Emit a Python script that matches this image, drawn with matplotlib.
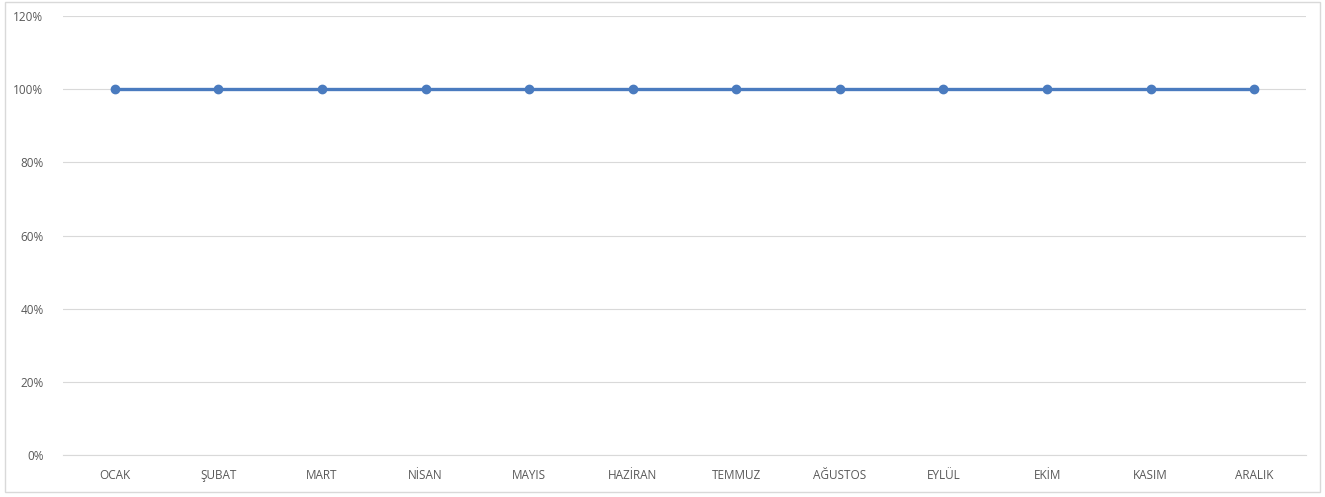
import matplotlib
matplotlib.use("Agg")
import matplotlib.pyplot as plt
from matplotlib.patches import Rectangle
from matplotlib.ticker import FuncFormatter

months = ["OCAK", "ŞUBAT", "MART", "NİSAN", "MAYIS", "HAZİRAN",
          "TEMMUZ", "AĞUSTOS", "EYLÜL", "EKİM", "KASIM", "ARALIK"]
values = [1.0, 1.0, 1.0, 1.0, 1.0, 1.0, 1.0, 1.0, 1.0, 1.0, 1.0, 1.0]
y_ticks = [0.0, 0.2, 0.4, 0.6, 0.8, 1.0, 1.2]

plt.rcParams["font.family"] = ["Open Sans", "DejaVu Sans"]
TEXT = "#595959"
LINE = "#4a7bbf"

fig = plt.figure(figsize=(13.25, 4.97), dpi=100)
ax = fig.add_axes([0.0475, 0.0845, 0.9382, 0.8833])

x = list(range(len(months)))
ax.plot(x, values, color=LINE, linewidth=2.4, marker="o", markersize=6,
        solid_capstyle="round", zorder=3)

ax.set_xlim(-0.5, len(months) - 0.5)
ax.set_ylim(0, 1.2)
ax.set_yticks(y_ticks)
ax.yaxis.set_major_formatter(FuncFormatter(lambda v, p: f"{v * 100:.0f}%"))
ax.set_xticks(x)
ax.set_xticklabels(months)
ax.grid(axis="y", color="#d9d9d9", linewidth=0.8)
ax.set_axisbelow(True)
for s in ["top", "right", "left"]:
    ax.spines[s].set_visible(False)
ax.spines["bottom"].set_color("#d9d9d9")
ax.spines["bottom"].set_linewidth(0.8)
ax.tick_params(axis="both", length=0, colors=TEXT, labelsize=8.5)
ax.tick_params(axis="x", pad=10)
ax.tick_params(axis="y", pad=14)

# chart border
fig.patches.append(Rectangle((0.004, 0.01), 0.992, 0.985, transform=fig.transFigure,
                             fill=False, edgecolor="#d9d9d9", linewidth=1))

fig.savefig("out.png", dpi=100)
